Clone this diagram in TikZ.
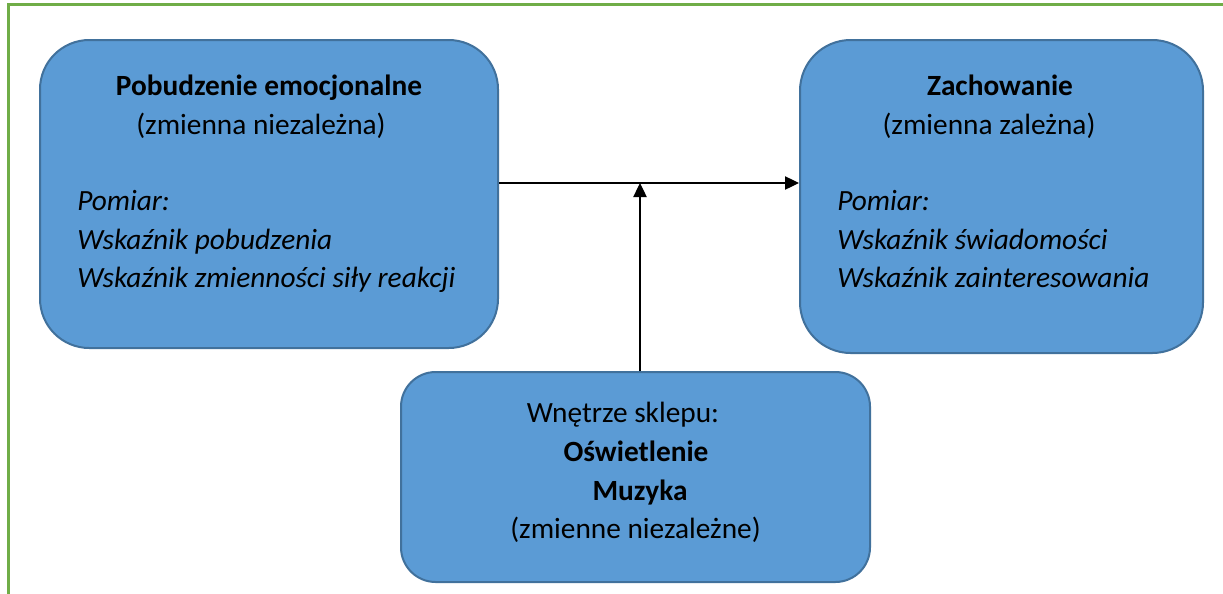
\documentclass[tikz,border=0pt]{standalone}
\usepackage{fontspec}
\setmainfont{Carlito}
\usetikzlibrary{arrows.meta}
\definecolor{boxfill}{HTML}{5B9BD5}
\definecolor{boxline}{HTML}{41719C}
\definecolor{frame}{HTML}{70AD47}
\tikzset{
  box/.style={draw=boxline, fill=boxfill, line width=1.5pt, rectangle, inner sep=0pt},
  txt/.style={inner sep=0pt, font=\fontsize{22}{26}\selectfont},
  arr/.style={-{Triangle[length=10.5pt,width=10pt]}, line width=0.9pt, black},
}
\begin{document}
\begin{tikzpicture}[x=0.75pt,y=-0.75pt]
\clip (0,0) rectangle (1223,593);
\fill[white] (0,0) rectangle (1223,593);
\draw[frame, line width=2.6pt] (8.5,4.5) rectangle (1260,640);

\node[box, rounded corners=37pt, minimum width=343.5pt, minimum height=231pt] (b1) at (269,194) {};
\node[box, rounded corners=38pt, minimum width=302.25pt, minimum height=234.75pt] (b2) at (1001.5,196.5) {};
\node[box, rounded corners=26pt, minimum width=351.75pt, minimum height=157.5pt] (b3) at (635.5,477) {};

% box 1 text
\node[txt, anchor=base] (t11) at (269,95) {\textbf{Pobudzenie emocjonalne}};
\node[txt, anchor=base] (t12) at (261,134) {(zmienna niezależna)};
\node[txt, anchor=base west] (t13) at (77,210) {\itshape Pomiar:};
\node[txt, anchor=base west] (t14) at (77,249) {\itshape Wskaźnik pobudzenia};
\node[txt, anchor=base west] (t15) at (77,287) {\itshape Wskaźnik zmienności siły reakcji};

% box 2 text
\node[txt, anchor=base] (t21) at (1000,95) {\textbf{Zachowanie}};
\node[txt, anchor=base] (t22) at (989,134) {(zmienna zależna)};
\node[txt, anchor=base west] (t23) at (837,210) {\itshape Pomiar:};
\node[txt, anchor=base west] (t24) at (837,249) {\itshape Wskaźnik świadomości};
\node[txt, anchor=base west] (t25) at (837,287) {\itshape Wskaźnik zainteresowania};

% box 3 text
\node[txt, anchor=base] (t31) at (623,422) {Wnętrze sklepu:};
\node[txt, anchor=base] (t32) at (636,461) {\textbf{Oświetlenie}};
\node[txt, anchor=base] (t33) at (640,500) {\textbf{Muzyka}};
\node[txt, anchor=base] (t34) at (635.5,538) {(zmienne niezależne)};

% connectors
\coordinate (h) at (640,183);
\draw[arr] (b1.east |- h) -- (b2.west |- h);
\draw[arr] (b3.north -| h) -- (h);
\end{tikzpicture}
\end{document}
